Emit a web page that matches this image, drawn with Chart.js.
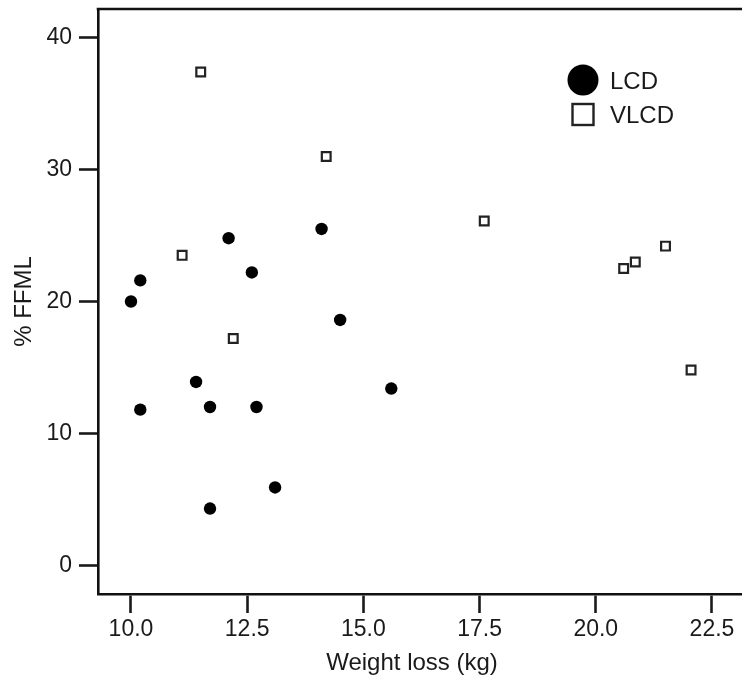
<!DOCTYPE html>
<html>
<head>
<meta charset="utf-8">
<script src="https://cdn.jsdelivr.net/npm/chart.js@4/dist/chart.umd.min.js"></script>
<style>
  html, body { margin: 0; padding: 0; background: #ffffff; overflow: hidden; }
  #wrap { width: 742px; height: 679px; }
</style>
</head>
<body>
<div id="wrap"><canvas id="c" width="742" height="679"></canvas></div>
<script>
// ---- data ----
const seriesNames = ["LCD", "VLCD"];
const lcdX  = [10.0, 10.2, 12.1, 12.6, 14.1, 14.5, 10.2, 11.4, 11.7, 12.7, 13.1, 11.7, 15.6];
const lcdY  = [20.0, 21.6, 24.8, 22.2, 25.5, 18.6, 11.8, 13.9, 12.0, 12.0, 5.9, 4.3, 13.4];
const vlcdX = [11.5, 14.2, 11.1, 12.2, 17.6, 20.6, 20.85, 21.5, 22.05];
const vlcdY = [37.4, 31.0, 23.5, 17.2, 26.1, 22.5, 23.0, 24.2, 14.8];
const xTicks = [10.0, 12.5, 15.0, 17.5, 20.0, 22.5];
const yTicks = [0, 10, 20, 30, 40];
const xTitle = "Weight loss (kg)";
const yTitle = "% FFML";

const FONT = "'Liberation Sans', Arial, Helvetica, sans-serif";
const INK = "#1a1a1a";

const toPts = (xs, ys) => xs.map((x, i) => ({ x: x, y: ys[i] }));

const noPad = (s) => { s.paddingTop = 0; s.paddingBottom = 0; s.paddingLeft = 0; s.paddingRight = 0; };

const frameAndLegend = {
  id: 'frameAndLegend',
  afterDraw(chart) {
    const ctx = chart.ctx;
    const a = chart.chartArea;
    ctx.save();
    // top frame line
    ctx.strokeStyle = "#111";
    ctx.lineWidth = 2.6;
    ctx.beginPath();
    ctx.moveTo(a.left - 1.3, a.top);
    ctx.lineTo(a.right + 2, a.top);
    ctx.stroke();
    // x axis title (centred a little left of the clipped plot region, as in the source)
    ctx.fillStyle = INK;
    ctx.font = "24px " + FONT;
    ctx.textAlign = "center";
    ctx.textBaseline = "alphabetic";
    ctx.fillText(xTitle, 412, 670);
    // legend
    const ds = chart.data.datasets;
    const lx = 583, ly0 = 80, ly1 = 114.5;
    ctx.fillStyle = "#000";
    ctx.beginPath();
    ctx.arc(lx, ly0, 15.5, 0, Math.PI * 2);
    ctx.fill();
    ctx.strokeStyle = "#222";
    ctx.lineWidth = 2.4;
    ctx.strokeRect(lx - 10.5, ly1 - 10.5, 21, 21);
    ctx.fillStyle = INK;
    ctx.textAlign = "left";
    ctx.fillText(ds[0].label, 610, 88.5);
    ctx.fillText(ds[1].label, 610, 123);
    ctx.restore();
  }
};

new Chart(document.getElementById('c'), {
  type: 'scatter',
  data: {
    datasets: [
      {
        label: seriesNames[0],
        data: toPts(lcdX, lcdY),
        pointStyle: 'circle',
        pointRadius: 6.2,
        pointHoverRadius: 6.2,
        backgroundColor: '#000',
        borderColor: '#000',
        borderWidth: 0
      },
      {
        label: seriesNames[1],
        data: toPts(vlcdX, vlcdY),
        pointStyle: 'rect',
        pointRadius: 6.2,
        pointHoverRadius: 6.2,
        backgroundColor: '#fff',
        borderColor: '#222',
        borderWidth: 2.2
      }
    ]
  },
  options: {
    responsive: false,
    animation: false,
    devicePixelRatio: 1,
    layout: { autoPadding: false, padding: { top: 9, right: 0, left: 0, bottom: 0 } },
    plugins: {
      legend: { display: false },
      tooltip: { enabled: false }
    },
    scales: {
      x: {
        type: 'linear',
        min: 9.29,
        max: 23.146,
        afterBuildTicks: (s) => { s.ticks = xTicks.map(v => ({ value: v })); },
        afterFit: (s) => { s.height = 85; noPad(s); },
        ticks: {
          color: INK,
          font: { family: FONT, size: 23 },
          padding: 3,
          maxRotation: 0,
          autoSkip: false,
          callback: (v) => Number(v).toFixed(1)
        },
        grid: {
          display: true,
          drawOnChartArea: false,
          drawTicks: true,
          tickLength: 19,
          tickWidth: 2.6,
          tickColor: '#1a1a1a'
        },
        border: { display: true, color: '#111', width: 2.6 },
        title: { display: false }
      },
      y: {
        type: 'linear',
        min: -2.18,
        max: 42.18,
        afterBuildTicks: (s) => { s.ticks = yTicks.map(v => ({ value: v })); },
        afterFit: (s) => { s.width = 98; noPad(s); },
        ticks: {
          color: INK,
          font: { family: FONT, size: 23 },
          padding: 7,
          autoSkip: false,
          callback: (v) => String(v)
        },
        grid: {
          display: true,
          drawOnChartArea: false,
          drawTicks: true,
          tickLength: 19,
          tickWidth: 2.6,
          tickColor: '#1a1a1a'
        },
        border: { display: true, color: '#111', width: 2.6 },
        title: {
          display: true,
          text: yTitle,
          color: INK,
          font: { family: FONT, size: 24 },
          padding: { top: 10, bottom: 0 }
        }
      }
    }
  },
  plugins: [frameAndLegend]
});
</script>
</body>
</html>
